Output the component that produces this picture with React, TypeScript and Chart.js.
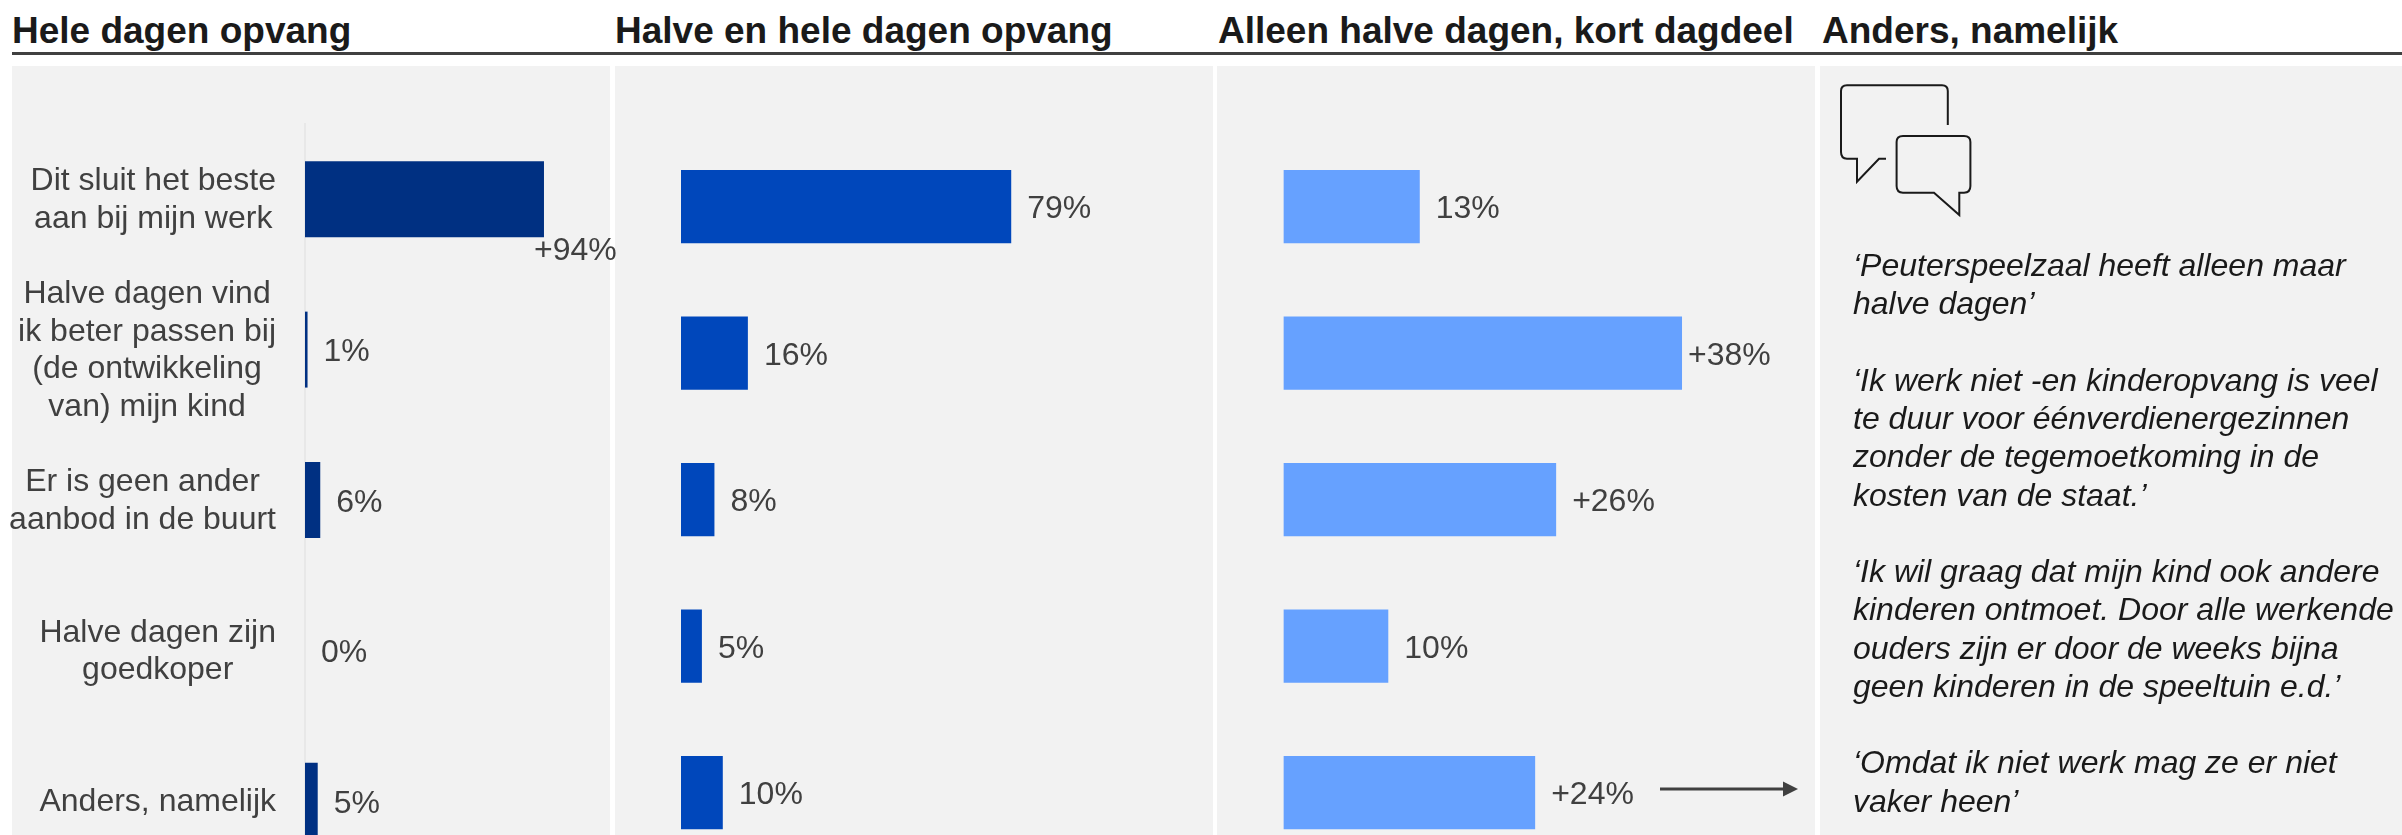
import React, { useEffect, useRef } from "react";
import { Chart, registerables } from "chart.js";

Chart.register(...registerables);

const categories: string[][] = [
  ["Dit sluit het beste", "aan bij mijn werk"],
  ["Halve dagen vind", "ik beter passen bij", "(de ontwikkeling", "van) mijn kind"],
  ["Er is geen ander", "aanbod in de buurt"],
  ["Halve dagen zijn", "goedkoper"],
  ["Anders, namelijk"],
];
const heleDagen = [94, 1, 6, 0, 5];
const halveEnHele = [79, 16, 8, 5, 10];
const alleenHalve = [13, 38, 26, 10, 24];
const heleLabels = ["+94%", "1%", "6%", "0%", "5%"];
const halveEnHeleLabels = ["79%", "16%", "8%", "5%", "10%"];
const alleenHalveLabels = ["13%", "+38%", "+26%", "10%", "+24%"];
const titles = [
  "Hele dagen opvang",
  "Halve en hele dagen opvang",
  "Alleen halve dagen, kort dagdeel",
  "Anders, namelijk",
];
const quotes = [
  "‘Peuterspeelzaal heeft alleen maar",
  "halve dagen’",
  "",
  "‘Ik werk niet -en kinderopvang is veel",
  "te duur voor éénverdienergezinnen",
  "zonder de tegemoetkoming in de",
  "kosten van de staat.’",
  "",
  "‘Ik wil graag dat mijn kind ook andere",
  "kinderen ontmoet. Door alle werkende",
  "ouders zijn er door de weeks bijna",
  "geen kinderen in de speeltuin e.d.’",
  "",
  "‘Omdat ik niet werk mag ze er niet",
  "vaker heen’",
];

const FONT = '"Liberation Sans", Arial, sans-serif';
const TEXT = "#404040";
const LABEL_SIZE = 32;

type PanelProps = {
  values: number[];
  labels: string[];
  color: string;
  left: number;
  width: number;
  height: number;
  padding: { left: number; right: number; top: number; bottom: number };
  max: number;
  barPercentage: number;
  nudge?: Record<number, { dx: number; dy: number }>;
  showCategories?: boolean;
};

function BarPanel(p: PanelProps) {
  const ref = useRef<HTMLCanvasElement | null>(null);
  useEffect(() => {
    if (!ref.current) return;
    const valueLabels = {
      id: "valueLabels",
      afterDatasetsDraw(chart: any) {
        const ctx = chart.ctx;
        ctx.save();
        ctx.font = `${LABEL_SIZE}px ${FONT}`;
        ctx.fillStyle = TEXT;
        ctx.textAlign = "left";
        ctx.textBaseline = "middle";
        chart.getDatasetMeta(0).data.forEach((bar: any, i: number) => {
          const n = p.nudge?.[i] ?? { dx: 16, dy: 3 };
          ctx.fillText(p.labels[i], bar.x + n.dx, bar.y + n.dy);
        });
        ctx.restore();
      },
    };
    const categoryLabels = {
      id: "categoryLabels",
      afterDraw(chart: any) {
        if (!p.showCategories) return;
        const ctx = chart.ctx;
        const yScale = chart.scales.y;
        const rightEdge = 276;
        const lineHeight = 37.4;
        ctx.save();
        ctx.font = `${LABEL_SIZE}px ${FONT}`;
        ctx.fillStyle = TEXT;
        ctx.textAlign = "center";
        ctx.textBaseline = "middle";
        categories.forEach((lines, i) => {
          const widest = Math.max(...lines.map((l) => ctx.measureText(l).width));
          const cx = rightEdge - widest / 2;
          const cy = yScale.getPixelForValue(i) + 1;
          lines.forEach((l, k) => {
            ctx.fillText(l, cx, cy + (k - (lines.length - 1) / 2) * lineHeight);
          });
        });
        ctx.restore();
      },
    };
    const chart = new Chart(ref.current, {
      type: "bar",
      data: {
        labels: categories.map((c) => c.join(" ")),
        datasets: [
          {
            data: p.values,
            backgroundColor: p.color,
            borderWidth: 0,
            categoryPercentage: 1,
            barPercentage: p.barPercentage,
          },
        ],
      },
      options: {
        indexAxis: "y",
        animation: false,
        responsive: false,
        maintainAspectRatio: false,
        layout: { padding: p.padding },
        plugins: { legend: { display: false }, tooltip: { enabled: false }, title: { display: false } },
        scales: {
          x: { display: false, min: 0, max: p.max, grid: { display: false } },
          y: {
            display: !!p.showCategories,
            grid: { display: false },
            ticks: { display: false },
            border: { display: true, color: "#e8e8e8", width: 2 },
            afterFit(scale: any) {
              scale.width = 0;
            },
          },
        },
      },
      plugins: [valueLabels, categoryLabels],
    } as any);
    return () => chart.destroy();
  }, []);
  return (
    <canvas
      ref={ref}
      width={p.width}
      height={p.height}
      style={{ position: "absolute", left: p.left, top: 0, width: p.width, height: p.height }}
    />
  );
}

const panelBoxes = [
  { left: 12, width: 598 },
  { left: 615, width: 598 },
  { left: 1217, width: 598 },
  { left: 1820, width: 582 },
];
const titleLeft = [12, 615, 1218, 1822];

export default function App() {
  return (
    <div
      style={{
        position: "fixed",
        left: 0,
        top: 0,
        width: 2402,
        height: 835,
        overflow: "hidden",
        background: "#fff",
        fontFamily: FONT,
      }}
    >
      {panelBoxes.map((b, i) => (
        <div
          key={i}
          style={{ position: "absolute", left: b.left, top: 66, width: b.width, height: 769, background: "#f2f2f2" }}
        />
      ))}
      <div style={{ position: "absolute", left: 12, top: 52, width: 2390, height: 3, background: "#404040" }} />
      {titles.map((t, i) => (
        <div
          key={t}
          style={{
            position: "absolute",
            left: titleLeft[i],
            top: 9,
            lineHeight: "44px",
            fontSize: 37,
            fontWeight: 700,
            color: "#1a1a1a",
            whiteSpace: "pre",
          }}
        >
          {t}
        </div>
      ))}
      <BarPanel
        values={heleDagen}
        labels={heleLabels}
        color="#003082"
        left={0}
        width={640}
        height={880}
        padding={{ left: 305, right: 35, top: 124, bottom: 4 }}
        max={118}
        barPercentage={0.505}
        nudge={{ 0: { dx: -10, dy: 52 } }}
        showCategories
      />
      <BarPanel
        values={halveEnHele}
        labels={halveEnHeleLabels}
        color="#0047BB"
        left={640}
        width={600}
        height={870}
        padding={{ left: 41, right: 141, top: 133.25, bottom: 4.25 }}
        max={100}
        barPercentage={0.5}
      />
      <BarPanel
        values={alleenHalve}
        labels={alleenHalveLabels}
        color="#66A1FF"
        left={1220}
        width={600}
        height={870}
        padding={{ left: 63.4, right: 12.1, top: 133.25, bottom: 4.25 }}
        max={50}
        barPercentage={0.5}
        nudge={{ 1: { dx: 6, dy: 3 } }}
      />
      <svg
        width={2402}
        height={835}
        style={{ position: "absolute", left: 0, top: 0, pointerEvents: "none" }}
      >
        <line x1={1660} y1={789} x2={1785} y2={789} stroke="#404040" strokeWidth={3} />
        <polygon points="1783,781.5 1798,789 1783,796.5" fill="#404040" />
        <path
          d="M1947.8 125 V91 Q1947.8 85.3 1942 85.3 H1847 Q1841 85.3 1841 91 V152 Q1841 158.7 1847 158.7 H1857 V181.7 L1879 158.7 H1886"
          fill="none"
          stroke="#1a1a1a"
          strokeWidth={2}
        />
        <path
          d="M1903 136 H1964 Q1970.4 136 1970.4 142 V186 Q1970.4 192.7 1964 192.7 H1959.3 V215 L1934 192.7 H1903 Q1896.6 192.7 1896.6 186 V142 Q1896.6 136 1903 136 Z"
          fill="none"
          stroke="#1a1a1a"
          strokeWidth={2}
        />
      </svg>
      <div
        style={{
          position: "absolute",
          left: 1853,
          top: 246,
          fontSize: 32,
          lineHeight: "38.25px",
          fontStyle: "italic",
          color: "#1a1a1a",
          whiteSpace: "pre",
        }}
      >
        {quotes.map((q, i) => (
          <div key={i} style={{ height: 38.25 }}>
            {q}
          </div>
        ))}
      </div>
    </div>
  );
}
